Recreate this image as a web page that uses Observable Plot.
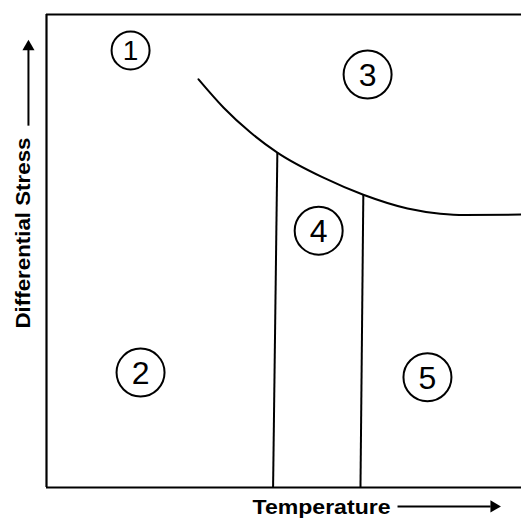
<!DOCTYPE html>
<html>
<head>
<meta charset="utf-8">
<script src="https://cdn.jsdelivr.net/npm/d3@7"></script>
<script src="https://cdn.jsdelivr.net/npm/@observablehq/plot@0.6"></script>
<style>
  html, body { margin: 0; padding: 0; background: #fff; }
</style>
</head>
<body>
<div id="chart"></div>
<script>
// Boundary curve (temperature, differential stress) in relative units 0–100
const curveT = [32.0, 37.3, 42.9, 48.6, 58.3, 66.7, 76.0, 82.9, 88.0, 100];
const curveS = [86.3, 80.3, 75.1, 70.8, 65.5, 61.9, 59.0, 57.9, 57.6, 57.7];

// Vertical field boundaries: top on the curve, bottom at the axis
const vTopT = [48.6, 66.7];
const vTopS = [70.8, 61.9];
const vBotT = [47.7, 66.1];
const vBotS = [0, 0];

// Field labels (circled numbers)
const fieldLabels = ["1", "2", "3", "4", "5"];
const fieldT = [17.7, 19.8, 67.6, 57.3, 80.2];
const fieldS = [92.4, 24.3, 87.3, 54.3, 23.3];

// Axis titles
const xTitle = "Temperature";
const yTitle = "Differential Stress";

const curve = curveT.map((t, i) => ({t, s: curveS[i]}));
const verticals = vTopT.map((t, i) => ({t1: t, s1: vTopS[i], t2: vBotT[i], s2: vBotS[i]}));
const fields = fieldLabels.map((l, i) => ({label: l, t: fieldT[i], s: fieldS[i]}));

const chart = Plot.plot({
  width: 521,
  height: 519,
  marginLeft: 46,
  marginRight: 0,
  marginTop: 14,
  marginBottom: 32,
  style: {background: "#fff", fontFamily: "Liberation Sans, Arial, sans-serif"},
  x: {domain: [0, 100], axis: null},
  y: {domain: [0, 100], axis: null},
  r: {type: "identity"},
  marks: [
    Plot.ruleX([0], {stroke: "#000", strokeWidth: 2.2}),
    Plot.ruleY([0, 100], {stroke: "#000", strokeWidth: 2.2}),
    Plot.line(curve, {x: "t", y: "s", curve: "monotone-x", stroke: "#000", strokeWidth: 2}),
    Plot.link(verticals, {x1: "t1", y1: "s1", x2: "t2", y2: "s2", stroke: "#000", strokeWidth: 2}),
    Plot.dot(fields, {x: "t", y: "s", r: (d, i) => i === 0 ? 19 : 24, stroke: "#000", strokeWidth: 2, fill: "none"}),
    Plot.text(fields, {x: "t", y: "s", text: "label", fontSize: (d, i) => i === 0 ? 28 : 32, fill: "#000", dy: 1}),
    // axis titles and arrows
    Plot.text([yTitle], {x: -4.8, y: 53.8, text: d => d, rotate: -90, fontSize: 20, fontWeight: "bold", fill: "#000"}),
    Plot.link([0], {x1: -3.8, y1: 76.5, x2: -3.8, y2: 92.5, stroke: "#000", strokeWidth: 2}),
    Plot.dot([0], {x: -3.8, y: 93.2, symbol: "triangle", r: 4.5, fill: "#000", stroke: "none"}),
    Plot.text([xTitle], {x: 57.9, y: -4.2, text: d => d, fontSize: 21, fontWeight: "bold", fill: "#000"}),
    Plot.link([0], {x1: 73.9, y1: -4.0, x2: 93.5, y2: -4.0, stroke: "#000", strokeWidth: 2}),
    Plot.dot([0], {x: 94.2, y: -4.0, symbol: "triangle", rotate: 90, r: 4.5, fill: "#000", stroke: "none"})
  ]
});

// fit titles to their measured length in the reference
d3.select(chart).selectAll("text").each(function() {
  const t = this.textContent;
  if (t === yTitle) { this.setAttribute("textLength", 191); this.setAttribute("lengthAdjust", "spacingAndGlyphs"); }
  if (t === xTitle) { this.setAttribute("textLength", 138); this.setAttribute("lengthAdjust", "spacingAndGlyphs"); }
});

document.getElementById("chart").append(chart);
</script>
</body>
</html>
